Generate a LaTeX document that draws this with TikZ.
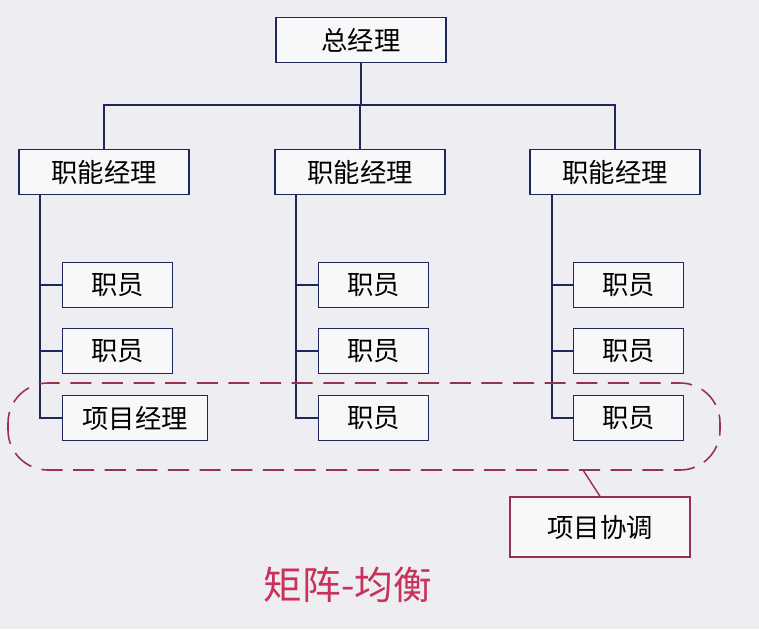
\documentclass[tikz,border=0pt]{standalone}
\usepackage{fontspec}
\setmainfont{Noto Sans CJK SC}
\usetikzlibrary{positioning, calc}
\definecolor{linecolor}{RGB}{30, 40, 90}
\definecolor{pmcolor}{RGB}{150, 50, 80}
\definecolor{titlecolor}{RGB}{200, 50, 90}
\definecolor{bgcolor}{RGB}{238, 238, 242}

\begin{document}
\begin{tikzpicture}[
    x=0.02cm, y=-0.02cm,
    box/.style={draw=linecolor, fill=white!60!bgcolor, line width=0.8pt, minimum height=0.9cm, inner sep=0pt, font=\fontsize{15}{17}\selectfont},
    head/.style={box, minimum width=3.4cm},
    staff/.style={box, minimum width=2.2cm},
    link/.style={draw=linecolor, line width=0.8pt}
]
    \fill[bgcolor] (0,0) rectangle (759,629);
    \useasboundingbox (0,0) rectangle (759,629);

    \node[head] (gm) at (361,40) {总经理};
    \node[head] (fm1) at (104,172) {职能经理};
    \node[head] (fm2) at (360,172) {职能经理};
    \node[head] (fm3) at (615,172) {职能经理};

    \coordinate (bus) at (361,105);
    \draw[link] (gm) -- (bus);
    \draw[link] (fm1.north) |- (bus) -| (fm3.north);
    \draw[link] (fm2.north) -- (fm2.north |- bus);

    % staff columns
    \node[staff, anchor=west] (s11) at (62,285) {职员};
    \node[staff, anchor=west] (s12) at (62,351) {职员};
    \node[staff, anchor=west, minimum width=2.9cm] (pm) at (62,418) {项目经理};
    \node[staff, anchor=west] (s21) at (318,285) {职员};
    \node[staff, anchor=west] (s22) at (318,351) {职员};
    \node[staff, anchor=west] (s23) at (318,418) {职员};
    \node[staff, anchor=west] (s31) at (573,285) {职员};
    \node[staff, anchor=west] (s32) at (573,351) {职员};
    \node[staff, anchor=west] (s33) at (573,418) {职员};

    \draw[link] (fm1.south -| 40,0) |- (pm.west);
    \draw[link] (40,285) -- (s11.west);
    \draw[link] (40,351) -- (s12.west);
    \draw[link] (fm2.south -| 296,0) |- (s23.west);
    \draw[link] (296,285) -- (s21.west);
    \draw[link] (296,351) -- (s22.west);
    \draw[link] (fm3.south -| 552,0) |- (s33.west);
    \draw[link] (552,285) -- (s31.west);
    \draw[link] (552,351) -- (s32.west);

    % project coordination
    \draw[pmcolor, line width=0.9pt, dashed, dash pattern=on 12pt off 6pt, rounded corners=0.8cm] (8,383) rectangle (720,470);
    \node[draw=pmcolor, fill=white!60!bgcolor, line width=0.8pt, minimum width=3.6cm, minimum height=1.2cm, font=\fontsize{15}{17}\selectfont] (coord) at (600,527) {项目协调};
    \coordinate (ring) at (583,470);
    \draw[pmcolor, line width=0.8pt] (ring) -- (coord.north);

    \node[text=titlecolor, font=\fontsize{22}{26}\selectfont] (title) at (348,585) {矩阵-均衡};
\end{tikzpicture}
\end{document}
